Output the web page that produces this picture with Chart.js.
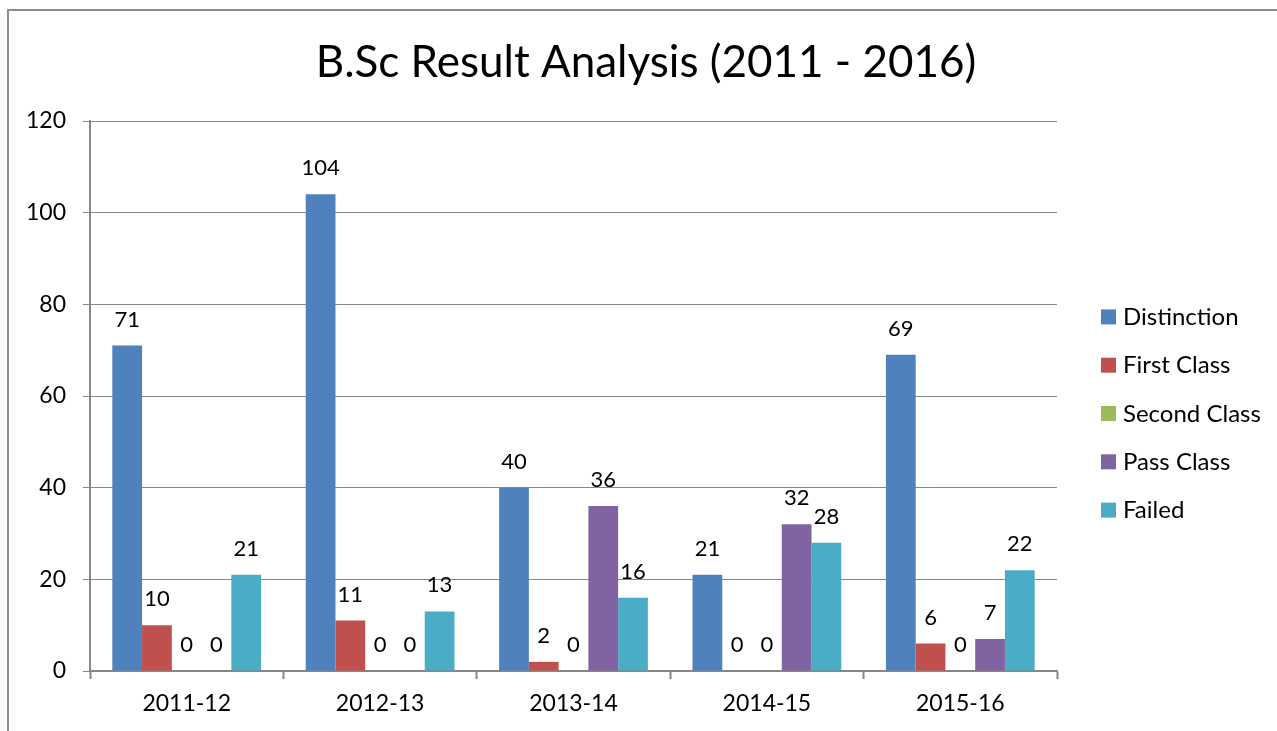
<!DOCTYPE html>
<html>
<head>
<meta charset="utf-8">
<title>B.Sc Result Analysis</title>
<script src="https://cdn.jsdelivr.net/npm/chart.js@4"></script>
<style>
    html, body { margin: 0; padding: 0; background: #fff; }
    #wrap { position: relative; width: 1277px; height: 731px; overflow: hidden; }
    #frame { position: absolute; left: 7px; top: 9px; width: 1300px; height: 800px;
             border-left: 2px solid #8c8c8c; border-top: 2px solid #8c8c8c; }
    #chart_canvas { position: absolute; left: 0; top: 0; }
</style>
</head>
<body>
<div id="wrap">
    <div id="frame"></div>
    <canvas id="chart_canvas" width="1277" height="731"></canvas>
</div>
<script>
const chartTitle = 'B.Sc Result Analysis (2011 - 2016)';
const years = ['2011-12', '2012-13', '2013-14', '2014-15', '2015-16'];
const distinction = [71, 104, 40, 21, 69];
const firstClass = [10, 11, 2, 0, 6];
const secondClass = [0, 0, 0, 0, 0];
const passClass = [0, 0, 36, 32, 7];
const failed = [21, 13, 16, 28, 22];
const yTicks = [0, 20, 40, 60, 80, 100, 120];

const fontFamily = 'Lato, "Open Sans", sans-serif';

// title centred on the whole picture, not only the plot
const pageTitle = {
    id: 'pageTitle',
    afterDraw(chart) {
        const ctx = chart.ctx;
        ctx.save();
        ctx.font = `44px ${fontFamily}`;
        ctx.fillStyle = '#000';
        ctx.textAlign = 'center';
        ctx.textBaseline = 'alphabetic';
        ctx.fillText(chartTitle, 646, 77);
        ctx.restore();
    }
};

// value labels above each bar (zeros included, like the original)
const barLabels = {
    id: 'barLabels',
    afterDatasetsDraw(chart) {
        const ctx = chart.ctx;
        ctx.save();
        ctx.font = `22px ${fontFamily}`;
        ctx.fillStyle = '#000';
        ctx.textAlign = 'center';
        ctx.textBaseline = 'alphabetic';
        chart.data.datasets.forEach((ds, i) => {
            chart.getDatasetMeta(i).data.forEach((bar, j) => {
                ctx.fillText(String(ds.data[j]), bar.x, bar.y - 19);
            });
        });
        ctx.restore();
    }
};

// legend on the right, one column
const sideLegend = {
    id: 'sideLegend',
    afterDraw(chart) {
        const ctx = chart.ctx;
        const rowGap = 48.3;
        const midY = 413;
        const boxX = 1101;
        const n = chart.data.datasets.length;
        ctx.save();
        ctx.font = `24px ${fontFamily}`;
        ctx.textAlign = 'left';
        ctx.textBaseline = 'middle';
        chart.data.datasets.forEach((ds, i) => {
            const y = midY + (i - (n - 1) / 2) * rowGap;
            ctx.fillStyle = ds.backgroundColor;
            ctx.fillRect(boxX, y - 7, 15, 15);
            ctx.fillStyle = '#000';
            ctx.fillText(ds.label, boxX + 22, y + 1);
        });
        ctx.restore();
    }
};

const ctx = document.getElementById('chart_canvas').getContext('2d');
const chart = new Chart(ctx, {
    type: 'bar',
    data: {
        labels: years,
        datasets: [
            { label: 'Distinction', data: distinction, backgroundColor: '#4F81BD' },
            { label: 'First Class', data: firstClass, backgroundColor: '#C0504D' },
            { label: 'Second Class', data: secondClass, backgroundColor: '#9BBB59' },
            { label: 'Pass Class', data: passClass, backgroundColor: '#8064A2' },
            { label: 'Failed', data: failed, backgroundColor: '#4BACC6' }
        ]
    },
    options: {
        responsive: false,
        animation: false,
        events: [],
        datasets: {
            bar: { categoryPercentage: 5 / 6.5, barPercentage: 1 }
        },
        layout: {
            padding: { left: 25, right: 220, top: 121, bottom: 0 }
        },
        plugins: {
            legend: { display: false },
            tooltip: { enabled: false },
            title: { display: false }
        },
        scales: {
            x: {
                grid: {
                    drawOnChartArea: false,
                    drawTicks: true,
                    tickLength: 8,
                    tickWidth: 2,
                    color: '#878787'
                },
                border: { color: '#878787', width: 2 },
                ticks: {
                    color: '#000',
                    padding: 11,
                    font: { family: fontFamily, size: 23 }
                },
                afterFit(scale) { scale.height = 60; }
            },
            y: {
                min: 0,
                max: 120,
                afterBuildTicks(scale) {
                    scale.ticks = yTicks.map(v => ({ value: v }));
                },
                grid: {
                    color: '#878787',
                    tickLength: 7
                },
                border: { color: '#878787', width: 2 },
                ticks: {
                    color: '#000',
                    padding: 17,
                    font: { family: fontFamily, size: 23 }
                },
                afterFit(scale) { scale.width = 65; }
            }
        }
    },
    plugins: [barLabels, sideLegend, pageTitle]
});
</script>
</body>
</html>
